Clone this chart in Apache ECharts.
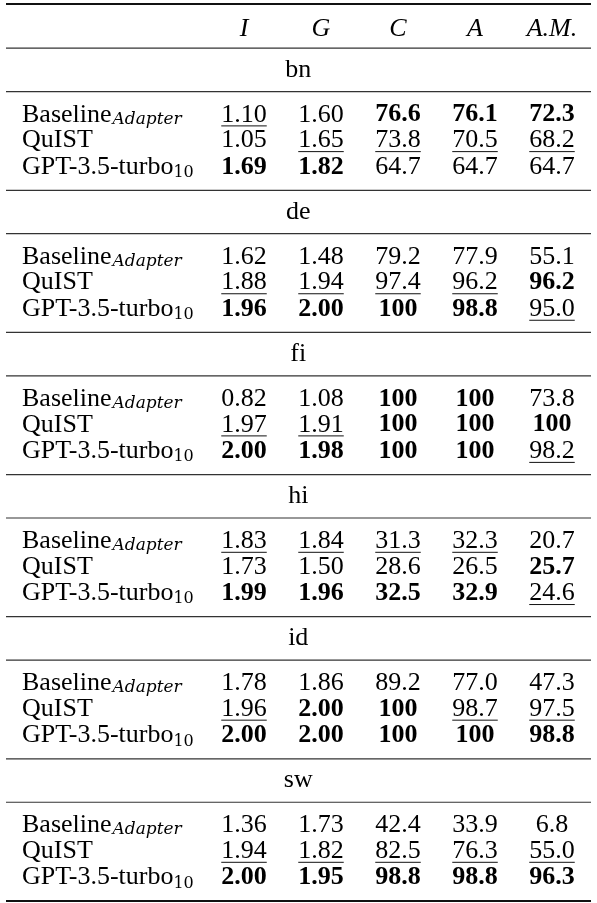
<!DOCTYPE html>
<html>
<head>
<meta charset="utf-8">
<script src="https://cdn.jsdelivr.net/npm/echarts@6/dist/echarts.min.js"></script>
<style>
html, body { margin: 0; padding: 0; background: #fff; }
#chart { width: 597px; height: 903px; }
</style>
</head>
<body>
<div id="chart"></div>
<script>
// column headers and section names
var columns = ['I', 'G', 'C', 'A', 'A.M.'];
var languages = ['bn', 'de', 'fi', 'hi', 'id', 'sw'];
var systems = ['baseline', 'quist', 'gpt'];

// values: one row per system (Baseline, QuIST, GPT-3.5-turbo10)
var bnValues = [[1.10, 1.60, 76.6, 76.1, 72.3], [1.05, 1.65, 73.8, 70.5, 68.2], [1.69, 1.82, 64.7, 64.7, 64.7]];
var deValues = [[1.62, 1.48, 79.2, 77.9, 55.1], [1.88, 1.94, 97.4, 96.2, 96.2], [1.96, 2.00, 100, 98.8, 95.0]];
var fiValues = [[0.82, 1.08, 100, 100, 73.8], [1.97, 1.91, 100, 100, 100], [2.00, 1.98, 100, 100, 98.2]];
var hiValues = [[1.83, 1.84, 31.3, 32.3, 20.7], [1.73, 1.50, 28.6, 26.5, 25.7], [1.99, 1.96, 32.5, 32.9, 24.6]];
var idValues = [[1.78, 1.86, 89.2, 77.0, 47.3], [1.96, 2.00, 100, 98.7, 97.5], [2.00, 2.00, 100, 100, 98.8]];
var swValues = [[1.36, 1.73, 42.4, 33.9, 6.8], [1.94, 1.82, 82.5, 76.3, 55.0], [2.00, 1.95, 98.8, 98.8, 96.3]];

// b = best (bold), u = second (underline), - = plain
var bnMarks = ['u-bbb', '-uuuu', 'bb---'];
var deMarks = ['-----', 'uuuub', 'bbbbu'];
var fiMarks = ['--bb-', 'uubbb', 'bbbbu'];
var hiMarks = ['uuuu-', '----b', 'bbbbu'];
var idMarks = ['-----', 'ubbuu', 'bbbbb'];
var swMarks = ['-----', 'uuuuu', 'bbbbb'];

var valuesByLang = [bnValues, deValues, fiValues, hiValues, idValues, swValues];
var marksByLang = [bnMarks, deMarks, fiMarks, hiMarks, idMarks, swMarks];

// layout (y axis units)
var HEAD = 1.7, LABEL = 1.67, BLOCK = 3.8;
var ROW_OFF = [0.89, 1.88, 2.9];
var FONT = 'Liberation Serif';
var SIZE = 26;
var TABLE_LEFT = 6, LABEL_X = 22;

function fmt(v, col) {
	if (col < 2) return v.toFixed(2);
	return v === 100 ? '100' : v.toFixed(1);
}

var measureCtx = document.createElement('canvas').getContext('2d');
function textWidth(str, bold) {
	measureCtx.font = (bold ? 'bold ' : '') + SIZE + 'px "' + FONT + '"';
	return measureCtx.measureText(str).width;
}

var headerData = columns.map(function (c) { return [c, 0.98]; });
var ruleData = [[0, 1], [HEAD, 0]];
var sectionData = [];
var nameData = [];
var cellData = [];
var y = HEAD;
languages.forEach(function (lang, k) {
	sectionData.push([0, y + LABEL / 2, lang]);
	y += LABEL;
	ruleData.push([y, 0]);
	systems.forEach(function (s, r) {
		var ry = y + ROW_OFF[r];
		nameData.push([0, ry, s]);
		valuesByLang[k][r].forEach(function (v, c) {
			cellData.push([columns[c], ry, fmt(v, c), marksByLang[k][r].charAt(c)]);
		});
	});
	y += BLOCK;
	ruleData.push([y, k === languages.length - 1 ? 1 : 0]);
});
var TOTAL = y;

var myChart = echarts.init(document.getElementById('chart'));

var option = {
	animation: false,
	grid: {
		left: 205.5,
		right: 6.5,
		top: 4,
		bottom: 2
	},
	xAxis: {
		type: 'category',
		data: columns,
		show: false
	},
	yAxis: {
		type: 'value',
		inverse: true,
		min: 0,
		max: TOTAL,
		show: false
	},
	series: [
	{
		// horizontal rules
		type: 'custom',
		clip: false,
		data: ruleData.map(function (d) { return [0, d[0], d[1]]; }),
		encode: { x: 0, y: 1 },
		renderItem: function (params, api) {
			var cs = params.coordSys;
			var py = api.coord([0, api.value(1)])[1];
			var thick = api.value(2) === 1;
			return {
				type: 'line',
				shape: { x1: TABLE_LEFT, y1: py, x2: cs.x + cs.width + 0.5, y2: py },
				style: { stroke: thick ? '#111' : '#333', lineWidth: thick ? 2 : 1.2 }
			};
		}
	},
	{
		// header
		type: 'custom',
		clip: false,
		data: headerData,
		encode: { x: 0, y: 1 },
		renderItem: function (params, api) {
			var pt = api.coord([api.value(0), api.value(1)]);
			return {
				type: 'text',
				x: pt[0],
				y: pt[1],
				style: {
					text: columns[params.dataIndex],
					fontFamily: FONT,
					fontStyle: 'italic',
					fontSize: SIZE,
					fill: '#000',
					align: 'center',
					verticalAlign: 'middle'
				}
			};
		}
	},
	{
		// language section labels
		type: 'custom',
		clip: false,
		data: sectionData,
		encode: { x: 0, y: 1 },
		renderItem: function (params, api) {
			var cs = params.coordSys;
			var py = api.coord([0, api.value(1)])[1];
			return {
				type: 'text',
				x: (TABLE_LEFT + cs.x + cs.width) / 2,
				y: py,
				style: {
					text: sectionData[params.dataIndex][2],
					fontFamily: FONT,
					fontSize: SIZE,
					fill: '#000',
					align: 'center',
					verticalAlign: 'middle'
				}
			};
		}
	},
	{
		// system names
		type: 'custom',
		clip: false,
		data: nameData,
		encode: { x: 0, y: 1 },
		renderItem: function (params, api) {
			var py = api.coord([0, api.value(1)])[1];
			var s = nameData[params.dataIndex][2];
			var txt = s === 'baseline' ? '{m|Baseline}{s|Adapter}'
				: s === 'quist' ? '{m|QuIST}' : '{m|GPT-3.5-turbo}{n|10}';
			return {
				type: 'text',
				x: LABEL_X,
				y: py,
				style: {
					text: txt,
					align: 'left',
					verticalAlign: 'middle',
					rich: {
						m: { fontFamily: FONT, fontSize: SIZE, lineHeight: 30, fill: '#000' },
						s: { fontFamily: 'DejaVu Serif', fontStyle: 'italic', fontSize: 17, lineHeight: 17, padding: [9, 0, 0, 1], fill: '#000' },
						n: { fontFamily: 'DejaVu Serif', fontSize: 16, lineHeight: 16, padding: [12, 0, 0, 0], fill: '#000' }
					}
				}
			};
		}
	},
	{
		// value cells
		type: 'custom',
		clip: false,
		data: cellData,
		encode: { x: 0, y: 1 },
		renderItem: function (params, api) {
			var pt = api.coord([api.value(0), api.value(1)]);
			var d = cellData[params.dataIndex];
			var bold = d[3] === 'b';
			var children = [{
				type: 'text',
				x: pt[0],
				y: pt[1],
				style: {
					text: d[2],
					fontFamily: FONT,
					fontWeight: bold ? 'bold' : 'normal',
					fontSize: SIZE,
					fill: '#000',
					align: 'center',
					verticalAlign: 'middle'
				}
			}];
			if (d[3] === 'u') {
				var w = textWidth(d[2], false);
				children.push({
					type: 'line',
					shape: { x1: pt[0] - w / 2, y1: pt[1] + 11.2, x2: pt[0] + w / 2, y2: pt[1] + 11.2 },
					style: { stroke: '#111', lineWidth: 1 }
				});
			}
			return { type: 'group', children: children };
		}
	}
	]
};
myChart.setOption(option);
window.onresize = function () {
	myChart.resize();
};
</script>
</body>
</html>
